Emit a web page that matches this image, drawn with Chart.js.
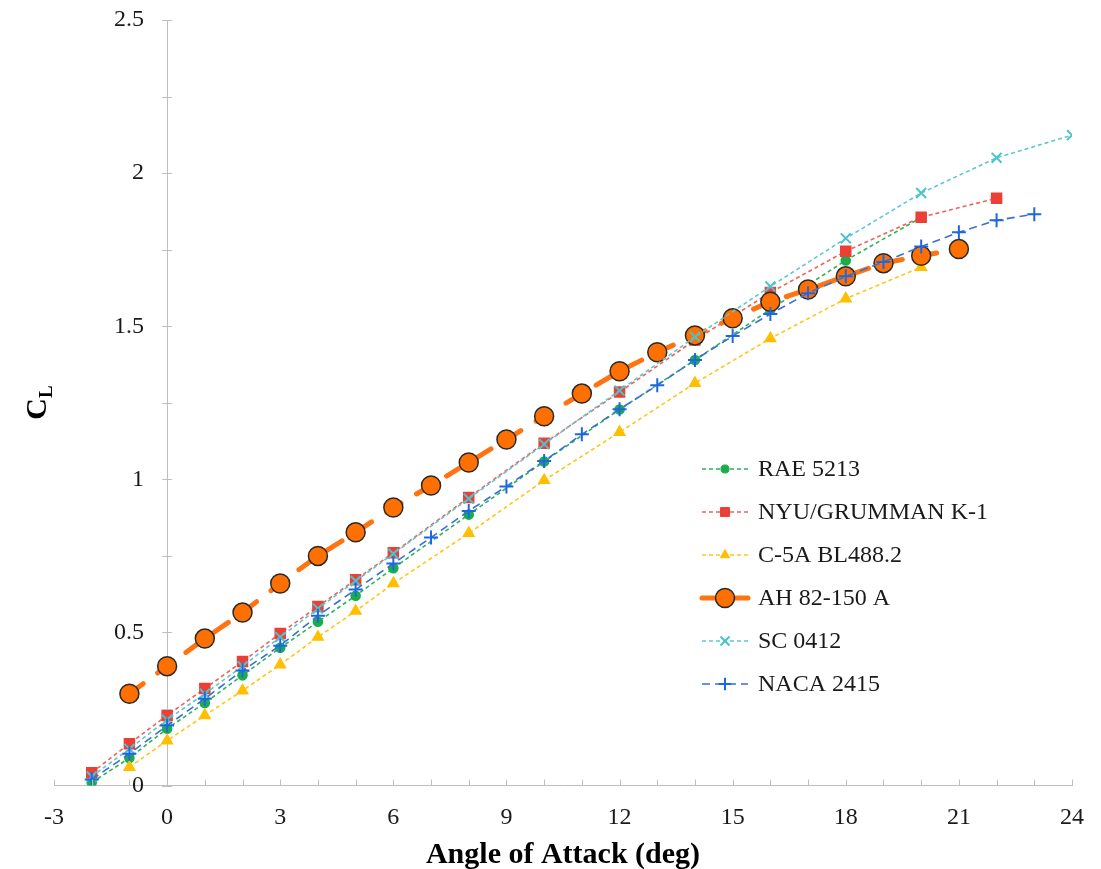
<!DOCTYPE html>
<html>
<head>
<meta charset="utf-8">
<script src="https://cdn.jsdelivr.net/npm/chart.js@4.4.1/dist/chart.umd.min.js"></script>
<style>
    html, body { margin: 0; padding: 0; background: #fff; }
    #wrap { width: 1101px; height: 869px; position: relative; }
</style>
</head>
<body>
<div id="wrap"><canvas id="myChart"></canvas></div>
<script>
// angle of attack (deg) and lift coefficient for each airfoil
const RAE_AOA = [-2, -1, 0, 1, 2, 3, 4, 5, 6, 8, 10, 12, 14, 16, 18, 20];
const RAE_CL = [0.01, 0.09, 0.186, 0.27, 0.36, 0.45, 0.535, 0.62, 0.71, 0.885, 1.058, 1.228, 1.39, 1.555, 1.715, 1.855];

const NYU_AOA = [-2, -1, 0, 1, 2, 3, 4, 5, 6, 8, 10, 12, 14, 16, 18, 20, 22];
const NYU_CL = [0.042, 0.137, 0.229, 0.317, 0.405, 0.497, 0.585, 0.672, 0.76, 0.941, 1.118, 1.285, 1.455, 1.61, 1.745, 1.856, 1.918];

const C5A_AOA = [-1, 0, 1, 2, 3, 4, 5, 6, 8, 10, 12, 14, 16, 18, 20];
const C5A_CL = [0.06, 0.147, 0.229, 0.31, 0.395, 0.485, 0.57, 0.66, 0.824, 0.997, 1.154, 1.314, 1.46, 1.59, 1.693];

const AH_AOA = [-1, 0, 1, 2, 3, 4, 5, 6, 7, 8, 9, 10, 11, 12, 13, 14, 15, 16, 17, 18, 19, 20, 21];
const AH_CL = [0.30, 0.39, 0.48, 0.565, 0.66, 0.75, 0.827, 0.908, 0.98, 1.055, 1.13, 1.206, 1.28, 1.353, 1.415, 1.47, 1.526, 1.58, 1.62, 1.663, 1.706, 1.73, 1.752];

const SC_AOA = [-2, -1, 0, 1, 2, 3, 4, 5, 6, 8, 10, 12, 14, 16, 18, 20, 22, 24];
const SC_CL = [0.03, 0.12, 0.215, 0.30, 0.39, 0.485, 0.578, 0.668, 0.757, 0.937, 1.115, 1.29, 1.465, 1.63, 1.787, 1.935, 2.05, 2.124];

const NACA_AOA = [-2, -1, 0, 1, 2, 3, 4, 5, 6, 7, 8, 9, 10, 11, 12, 13, 14, 15, 16, 17, 18, 19, 20, 21, 22, 23];
const NACA_CL = [0.02, 0.104, 0.196, 0.284, 0.376, 0.457, 0.555, 0.64, 0.725, 0.81, 0.897, 0.977, 1.06, 1.147, 1.229, 1.307, 1.39, 1.468, 1.54, 1.608, 1.663, 1.71, 1.76, 1.807, 1.846, 1.866];

const X_MIN = -3, X_MAX = 24, X_STEP = 3;
const Y_MIN = 0, Y_MAX = 2.5, Y_STEP = 0.5;

const SERIF = '"Liberation Serif", "Times New Roman", serif';

function pts(xs, ys) {
    return xs.map((x, i) => ({x: x, y: ys[i]}));
}

const datasets = [
    {
        label: 'RAE 5213', data: pts(RAE_AOA, RAE_CL), order: 6,
        borderColor: '#2DB35A', backgroundColor: '#19AE4C', borderWidth: 1.6,
        borderDash: [4, 3], pointStyle: 'circle', pointRadius: 4.5,
        pointBorderColor: '#19AE4C', pointBackgroundColor: '#19AE4C',
    },
    {
        label: 'NYU/GRUMMAN K-1', data: pts(NYU_AOA, NYU_CL), order: 5,
        borderColor: '#F0625A', backgroundColor: '#EC3F35', borderWidth: 1.6,
        borderDash: [4, 3], pointStyle: 'rect', pointRadius: 7,
        pointBorderColor: '#EC3F35', pointBackgroundColor: '#EC3F35',
    },
    {
        label: 'C-5A BL488.2', data: pts(C5A_AOA, C5A_CL), order: 4,
        borderColor: '#FFC61A', backgroundColor: '#FFBF00', borderWidth: 1.6,
        borderDash: [4, 3], pointStyle: 'triangle', pointRadius: 6,
        pointBorderColor: '#FFBF00', pointBackgroundColor: '#FFBF00',
    },
    {
        label: 'AH 82-150 A', data: pts(AH_AOA, AH_CL), order: 3,
        borderColor: '#FF7410', backgroundColor: '#FF7000', borderWidth: 5,
        borderDash: [17, 18], borderCapStyle: 'round',
        pointStyle: 'circle', pointRadius: 9.5,
        pointBorderColor: '#2A2A2A', pointBackgroundColor: '#FF7000', pointBorderWidth: 1.5,
    },
    {
        label: 'SC 0412', data: pts(SC_AOA, SC_CL), order: 2,
        borderColor: '#5CC8D2', backgroundColor: '#4BC3CE', borderWidth: 1.6,
        borderDash: [4, 3], pointStyle: 'crossRot', pointRadius: 7,
        pointBorderColor: '#4BC3CE', pointBorderWidth: 2,
    },
    {
        label: 'NACA 2415', data: pts(NACA_AOA, NACA_CL), order: 1,
        borderColor: '#3A6FD6', backgroundColor: '#1F66E5', borderWidth: 1.6,
        borderDash: [8, 5], pointStyle: 'cross', pointRadius: 7,
        pointBorderColor: '#1F66E5', pointBorderWidth: 2,
    },
];

// minor tick marks: x every 1 deg (upwards), y every 0.25 (crossing the axis)
// plus the y tick labels, drawn left of the axis that sits at x = 0
const axisTicks = {
    id: 'axisTicks',
    afterDraw(chart) {
        const ctx = chart.ctx;
        const xs = chart.scales.x, ys = chart.scales.y;
        const x0 = xs.getPixelForValue(0);
        const yb = ys.getPixelForValue(0);
        ctx.save();
        ctx.strokeStyle = '#BFBFBF';
        ctx.lineWidth = 1;
        ctx.beginPath();
        for (let v = X_MIN; v <= X_MAX; v++) {
            const px = Math.round(xs.getPixelForValue(v)) + 0.5;
            ctx.moveTo(px, yb);
            ctx.lineTo(px, yb - 6);
        }
        for (let v = Y_MIN; v <= Y_MAX + 1e-9; v += 0.25) {
            const py = Math.round(ys.getPixelForValue(v)) + 0.5;
            ctx.moveTo(x0 - 5, py);
            ctx.lineTo(x0 + 5, py);
        }
        ctx.stroke();

        ctx.fillStyle = '#1a1a1a';
        ctx.font = '24px ' + SERIF;
        ctx.textAlign = 'right';
        ctx.textBaseline = 'middle';
        ys.ticks.forEach(t => {
            ctx.fillText(String(+t.value.toFixed(2)), x0 - 23, ys.getPixelForValue(t.value));
        });
        ctx.restore();
    }
};

// y title "C" with subscript "L", rotated
const yTitle = {
    id: 'yTitle',
    afterDraw(chart) {
        const ctx = chart.ctx;
        const a = chart.chartArea;
        const cy = (a.top + a.bottom) / 2;
        ctx.save();
        ctx.translate(46, cy);
        ctx.rotate(-Math.PI / 2);
        ctx.fillStyle = '#000';
        ctx.textBaseline = 'alphabetic';
        ctx.font = 'bold 30px ' + SERIF;
        const w = ctx.measureText('C').width;
        ctx.fillText('C', -w / 2 - 6, 0);
        ctx.font = 'bold 19px ' + SERIF;
        ctx.fillText('L', w / 2 - 6, 6);
        ctx.restore();
    }
};

// legend with line + marker samples, inside the plot
const lineLegend = {
    id: 'lineLegend',
    afterDraw(chart) {
        const ctx = chart.ctx;
        const o = chart.options.plugins.lineLegend;
        chart.data.datasets.forEach((ds, i) => {
            const y = o.top + i * o.rowGap;
            const thick = ds.borderWidth > 3;
            ctx.save();
            ctx.strokeStyle = ds.borderColor;
            ctx.lineWidth = ds.borderWidth;
            ctx.lineCap = ds.borderCapStyle || 'butt';
            ctx.setLineDash(thick ? [] : (ds.borderDash || []));
            ctx.beginPath();
            ctx.moveTo(o.left, y);
            ctx.lineTo(o.left + o.lineLen, y);
            ctx.stroke();
            ctx.setLineDash([]);
            ctx.fillStyle = ds.pointBackgroundColor || ds.backgroundColor;
            ctx.strokeStyle = ds.pointBorderColor;
            ctx.lineWidth = ds.pointBorderWidth || 1;
            Chart.helpers.drawPoint(ctx, {
                pointStyle: ds.pointStyle,
                radius: thick ? 9.5 : ds.pointRadius * 0.9,
                rotation: 0,
                borderWidth: ds.pointBorderWidth || 1,
            }, o.left + o.lineLen / 2, y);
            ctx.fillStyle = '#1a1a1a';
            ctx.font = o.fontSize + 'px ' + SERIF;
            ctx.textBaseline = 'middle';
            ctx.fillText(ds.label, o.left + o.lineLen + 10, y + 1);
            ctx.restore();
        });
    }
};

const ctx = document.getElementById('myChart').getContext('2d');

new Chart(ctx, {
    type: 'line',
    data: { datasets: datasets },
    options: {
        responsive: true,
        maintainAspectRatio: false,
        animation: false,
        layout: { padding: { left: 54, right: 29, top: 20, bottom: -3 } },
        plugins: {
            legend: { display: false },
            tooltip: { enabled: false },
            lineLegend: { left: 702, top: 469, rowGap: 43, lineLen: 46, fontSize: 24 },
        },
        scales: {
            x: {
                type: 'linear',
                min: X_MIN, max: X_MAX,
                grid: { display: false },
                border: { display: true, color: '#BFBFBF', width: 1 },
                ticks: {
                    stepSize: X_STEP, color: '#1a1a1a', padding: 11,
                    font: { family: SERIF, size: 24, lineHeight: 1.1 },
                },
                title: {
                    display: true, text: 'Angle of Attack (deg)', color: '#000',
                    font: { family: SERIF, size: 30, weight: 'bold', lineHeight: 1 },
                    padding: { top: -2, bottom: 2 },
                },
            },
            y: {
                type: 'linear',
                position: { x: 0 },
                min: Y_MIN, max: Y_MAX,
                grid: { display: false },
                border: { display: true, color: '#BFBFBF', width: 1 },
                ticks: {
                    // labels are painted by the axisTicks plugin
                    stepSize: Y_STEP, color: 'rgba(0,0,0,0)',
                    font: { family: SERIF, size: 24 },
                },
            },
        },
    },
    plugins: [axisTicks, yTitle, lineLegend],
});
</script>
</body>
</html>
